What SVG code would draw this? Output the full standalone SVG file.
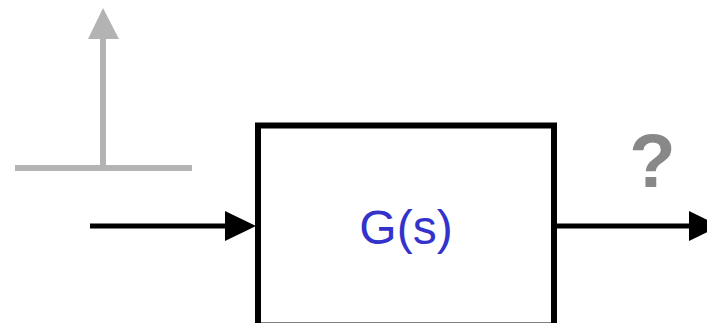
<svg xmlns="http://www.w3.org/2000/svg" width="707" height="323" viewBox="0 0 707 323">
<style>
.blk{stroke:#000;stroke-width:5;fill:none}
.gry{stroke:#b3b3b3;stroke-width:6;fill:none}
.lbl{font-family:"Liberation Sans",Arial,sans-serif}
</style>
<rect width="707" height="323" fill="#fff"/>
<g id="impulse">
<line class="gry" x1="15" y1="168" x2="192" y2="168"/>
<line class="gry" x1="103" y1="168" x2="103" y2="36"/>
<polygon points="103,8 88,39 119,39" fill="#b3b3b3"/>
</g>
<g id="connectors">
<line class="blk" x1="90" y1="226" x2="228" y2="226"/>
<polygon points="256,226 225,211 225,241" fill="#000"/>
<line class="blk" x1="557" y1="226" x2="692" y2="226"/>
<polygon points="720,226 689,211 689,241" fill="#000"/>
</g>
<g id="block">
<rect x="258" y="125.5" width="296" height="200" fill="#fff" stroke="#000" stroke-width="6"/>
<text class="lbl" x="406" y="244" font-size="48" fill="#3333cc" text-anchor="middle">G(s)</text>
</g>
<text class="lbl" x="652.5" y="187" font-size="76" font-weight="bold" fill="#888" text-anchor="middle">?</text>
</svg>
